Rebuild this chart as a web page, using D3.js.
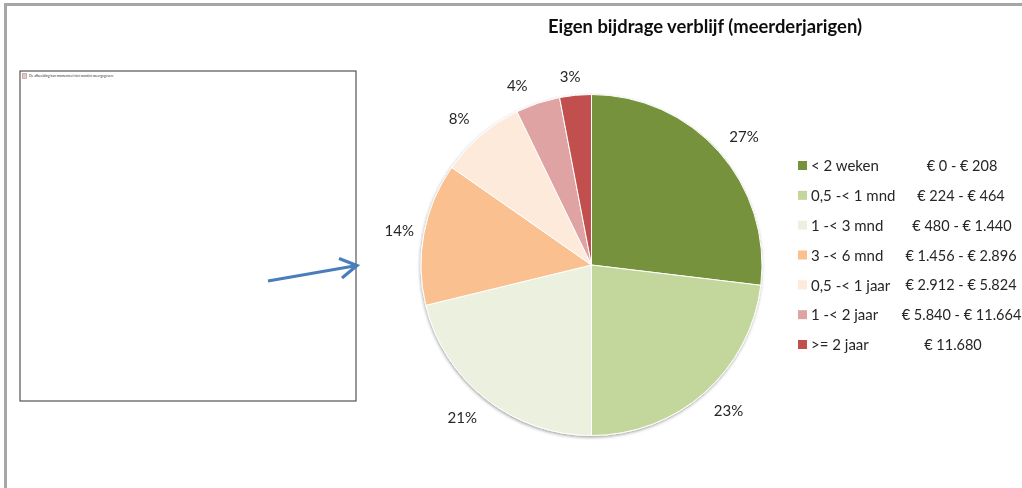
<!DOCTYPE html>
<html>
<head>
  <meta charset="utf-8">
  <title>Eigen bijdrage verblijf</title>
  <script src="https://d3js.org/d3.v7.min.js"></script>
  <style>
    html, body { margin: 0; padding: 0; background: #fff; overflow: hidden; }
    text { font-family: Lato, "Open Sans", sans-serif; fill: #262626; }
  </style>
</head>
<body>
<div id="chart"></div>
<script>
  var periods = ["< 2 weken", "0,5 -< 1 mnd", "1 -< 3 mnd", "3 -< 6 mnd", "0,5 -< 1 jaar", "1 -< 2 jaar", ">= 2 jaar"];
  var amounts = ["€ 0 - € 208", "€ 224 - € 464", "€ 480 - € 1.440", "€ 1.456 - € 2.896", "€ 2.912 - € 5.824", "€ 5.840 - € 11.664", "€ 11.680"];
  var shares = [26.9, 23.1, 21.2, 13.5, 8.1, 4.2, 3.0];
  var colors = ["#76923c", "#c3d69b", "#ebf1de", "#fac090", "#fdeada", "#e0a3a4", "#c0504d"];

  var w = 1022, h = 488;
  var cx = 591.5, cy = 265, radius = 170.5;

  // hand placed offsets, the labels in the original don't sit on one circle
  var labelNudge = [[7, 1], [8, 0], [-9, 0], [-1, 2], [-6, 2], [-13, 5], [-3, 5]];
  var amountX = [962, 961, 962, 961, 961, 961.5, 953];

  var svg = d3.select("#chart").append("svg").attr("width", w).attr("height", h);

  var defs = svg.append("defs");
  var shadow = defs.append("filter").attr("id", "shadow")
    .attr("x", "-10%").attr("y", "-10%").attr("width", "120%").attr("height", "120%");
  shadow.append("feDropShadow").attr("dx", -0.5).attr("dy", 1.5).attr("stdDeviation", 1.5)
    .attr("flood-color", "#000").attr("flood-opacity", 0.35);
  // the reference is a scaled screenshot, so everything is a little soft
  var soft = defs.append("filter").attr("id", "soft");
  soft.append("feGaussianBlur").attr("stdDeviation", 0.35);

  // outer frame of the slide
  svg.append("path").attr("d", "M5.5 488V4.5H1022").attr("fill", "none")
    .attr("stroke", "#a6a6a6").attr("stroke-width", 3);

  // box with the missing picture
  svg.append("rect").attr("x", 20).attr("y", 71).attr("width", 336).attr("height", 330)
    .attr("fill", "#fff").attr("stroke", "#333").attr("stroke-width", 1);
  svg.append("rect").attr("x", 22.5).attr("y", 73.5).attr("width", 4).attr("height", 5)
    .attr("fill", "#eec4c6").attr("stroke", "#999").attr("stroke-width", 0.6);
  svg.append("text").attr("x", 29).attr("y", 76.5).attr("font-size", 3.4).style("fill", "#333")
    .text("De afbeelding kan momenteel niet worden weergegeven.");

  // arrow
  var arrow = svg.append("g").attr("fill", "none").attr("stroke", "#4a7ebb")
    .attr("stroke-width", 3.2).attr("filter", "url(#soft)");
  arrow.append("path").attr("d", "M268 281L357 265.5");
  arrow.append("path").attr("d", "M339 258.5L357 265.5L342 278");

  // pie
  var pie = d3.pie().sort(null).value(function(d) { return d; });
  var arc = d3.arc().innerRadius(0).outerRadius(radius);
  var labelArc = d3.arc().innerRadius(radius + 24).outerRadius(radius + 24);
  var arcs = pie(shares);

  var pieG = svg.append("g").attr("transform", "translate(" + cx + "," + cy + ")");
  pieG.append("g").attr("filter", "url(#shadow)")
    .selectAll("path")
    .data(arcs)
    .enter()
    .append("path")
    .attr("d", arc)
    .attr("fill", function(d, i) { return colors[i]; })
    .attr("stroke", "#fff")
    .attr("stroke-width", 1);

  var textG = svg.append("g").attr("filter", "url(#soft)");

  textG.selectAll(".pct")
    .data(arcs)
    .enter()
    .append("text")
    .attr("class", "pct")
    .attr("transform", function(d, i) {
      var c = labelArc.centroid(d);
      return "translate(" + (cx + c[0] + labelNudge[i][0]) + "," + (cy + c[1] + labelNudge[i][1]) + ")";
    })
    .attr("text-anchor", "middle")
    .attr("dy", "0.35em")
    .attr("font-size", 15)
    .text(function(d) { return Math.round(d.value) + "%"; });

  textG.append("text").attr("x", 705).attr("y", 33).attr("text-anchor", "middle")
    .attr("font-size", 18.4).attr("font-weight", 700).style("fill", "#111")
    .text("Eigen bijdrage verblijf (meerderjarigen)");

  // legend
  var legendY = d3.scalePoint().domain(d3.range(periods.length)).range([166, 345]);
  svg.selectAll(".swatch")
    .data(periods)
    .enter()
    .append("rect")
    .attr("class", "swatch")
    .attr("x", 798)
    .attr("y", function(d, i) { return legendY(i) - 5; })
    .attr("width", 9)
    .attr("height", 9)
    .attr("fill", function(d, i) { return colors[i]; });
  textG.selectAll(".period")
    .data(periods)
    .enter()
    .append("text")
    .attr("class", "period")
    .attr("x", 811)
    .attr("y", function(d, i) { return legendY(i); })
    .attr("dy", "0.35em")
    .attr("font-size", 15)
    .text(function(d) { return d; });
  textG.selectAll(".amount")
    .data(amounts)
    .enter()
    .append("text")
    .attr("class", "amount")
    .attr("x", function(d, i) { return amountX[i]; })
    .attr("y", function(d, i) { return legendY(i); })
    .attr("dy", "0.35em")
    .attr("text-anchor", "middle")
    .attr("font-size", 14.5)
    .text(function(d) { return d; });
</script>
</body>
</html>
